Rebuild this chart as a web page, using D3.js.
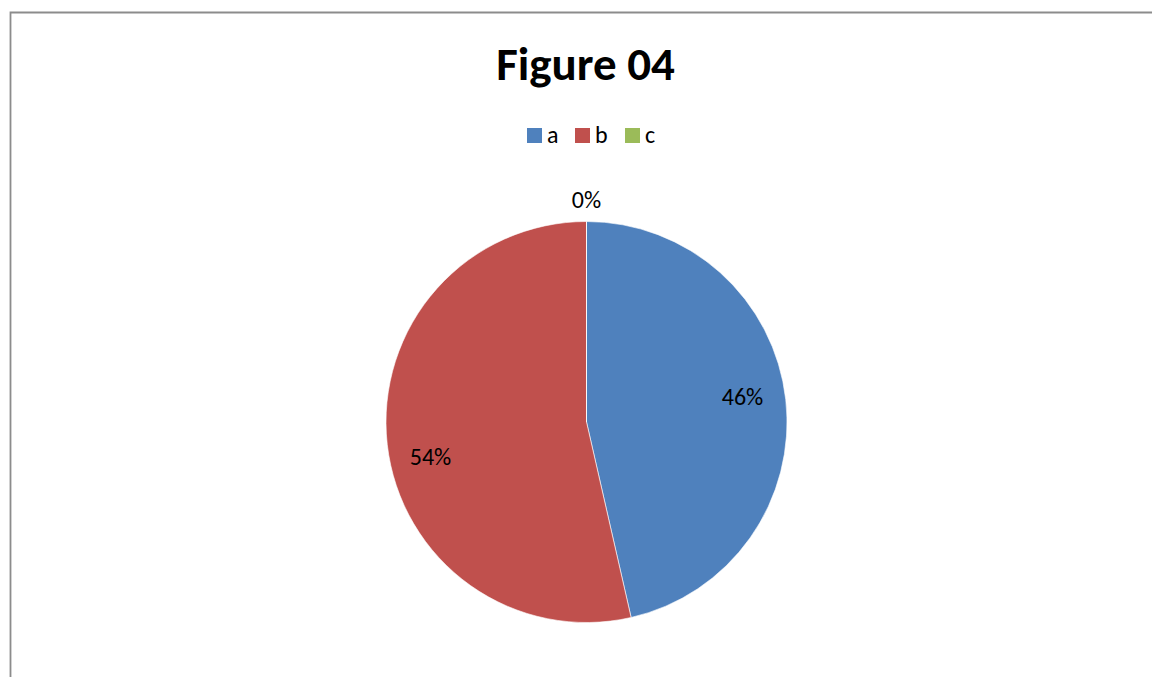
<!DOCTYPE html>
<html><head><meta charset="utf-8">
<script src="https://cdn.jsdelivr.net/npm/d3@7"></script>
<style>html,body{margin:0;padding:0;background:#fff;}svg{display:block;}</style>
</head><body>
<svg id="chart" width="1152" height="677"></svg>
<script>
const categories = ["a", "b", "c"];
const values = [13, 15, 0];
const colors = ["#4F81BD", "#C0504D", "#9BBB59"];
const title = "Figure 04";

const svg = d3.select("#chart");
const W = 1152, H = 677;
const font = "Carlito, Calibri, 'Open Sans', 'Liberation Sans', sans-serif";

// frame
svg.append("path")
  .attr("d", `M10.5,${H + 5} L10.5,12.5 L${W + 5},12.5`)
  .attr("fill", "none").attr("stroke", "#8c8c8c").attr("stroke-width", 1.8);

svg.append("text").attr("x", 585.5).attr("y", 80)
  .attr("text-anchor", "middle").attr("font-family", font)
  .attr("font-weight", "bold").attr("font-size", 47).attr("fill", "#000")
  .text(title);

// legend
const legendX = d3.scaleOrdinal().domain(categories).range([527, 575, 625]);
const lg = svg.append("g");
categories.forEach((c, i) => {
  lg.append("rect").attr("x", legendX(c)).attr("y", 128).attr("width", 15).attr("height", 15)
    .attr("fill", colors[i]);
  lg.append("text").attr("x", legendX(c) + 20).attr("y", 143)
    .attr("font-family", font).attr("font-size", 24).attr("fill", "#000").text(c);
});

// pie
const cx = 586.5, cy = 422, R = 200.5;
const total = d3.sum(values);
const pie = d3.pie().sort(null).value(d => d)(values);
const arc = d3.arc().innerRadius(0).outerRadius(R);
const g = svg.append("g").attr("transform", `translate(${cx},${cy})`);
g.selectAll("path.slice").data(pie).enter().append("path")
  .attr("class", "slice")
  .attr("d", arc)
  .attr("fill", (d, i) => colors[i])
  .attr("stroke", "#fff").attr("stroke-width", 0.6);

const labelArc = d3.arc().innerRadius(157).outerRadius(157);
const outArc = d3.arc().innerRadius(R + 21).outerRadius(R + 21);
const dyAdj = [-7, 18, 0];
g.selectAll("text.lbl").data(pie).enter().append("text")
  .attr("class", "lbl")
  .attr("transform", (d, i) => {
    const p = d.value === 0 ? outArc.centroid(d) : labelArc.centroid(d);
    return `translate(${p[0]},${p[1] + dyAdj[i]})`;
  })
  .attr("text-anchor", "middle").attr("dy", "0.31em")
  .attr("font-family", font).attr("font-size", 24).attr("fill", "#000")
  .text(d => Math.round(d.value / total * 100) + "%");
</script>
</body></html>
